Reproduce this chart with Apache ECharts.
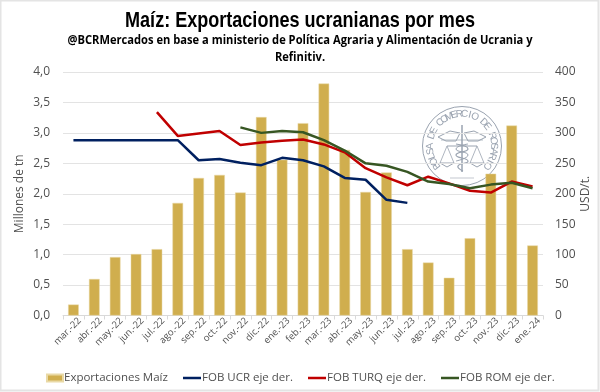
<!DOCTYPE html>
<html><head><meta charset="utf-8">
<style>html,body{margin:0;padding:0;background:#fff}#c{width:600px;height:392px}</style>
<script src="https://cdn.jsdelivr.net/npm/echarts@6/dist/echarts.min.js"></script>
</head><body><div id="c"></div>
<script>
const categories=['mar.-22','abr.-22','may.-22','jun.-22','jul.-22','ago.-22','sep.-22','oct.-22','nov.-22','dic.-22','ene.-23','feb.-23','mar.-23','abr.-23','may.-23','jun.-23','jul.-23','ago.-23','sep.-23','oct.-23','nov.-23','dic.-23','ene.-24'];
const exportaciones=[0.18,0.60,0.96,1.01,1.09,1.85,2.26,2.31,2.02,3.26,2.56,3.16,3.81,2.72,2.03,2.35,1.09,0.87,0.62,1.27,2.33,3.12,1.15];
const fobUcr=[288,288,288,288,288,288,255,257,251,247,259,255,245,226,223,190,185,null,null,null,null,null,null];
const fobTurq=[null,null,null,null,334,295,299,303,280,284,287,289,281,268,242,227,214,228,217,205,202,220,212];
const fobRom=[null,null,null,null,null,null,null,null,309,300,303,301,288,271,250,246,236,220,216,209,215,218,209];
const sealText='BOLSA DE COMERCIO DE ROSARIO';
const leftTicks=['0,0','0,5','1,0','1,5','2,0','2,5','3,0','3,5','4,0'];

const chart=echarts.init(document.getElementById('c'),null,{renderer:'canvas'});
const ink='#505050', seal='#9aa3b0';
const cx=462,cy=146,r=39.5;
const L=(pts,w,smooth)=>({type:'polyline',shape:{points:pts,smooth:smooth||0},style:{stroke:seal,lineWidth:w||1,fill:null}});
const sealEls=[
 {type:'circle',shape:{cx,cy,r:r},style:{fill:null,stroke:seal,lineWidth:1}},
 L([[cx,cy-21],[cx,cy+26]],1.5),
 L([[cx-24,cy-9],[cx-12,cy-15],[cx-2,cy-13],[cx-6,cy-5],[cx-16,cy-5],[cx-24,cy-9]]),
 L([[cx+24,cy-9],[cx+12,cy-15],[cx+2,cy-13],[cx+6,cy-5],[cx+16,cy-5],[cx+24,cy-9]]),
 L([[cx-21,cy-6],[cx+21,cy-6]],.7),
 L([[cx-15,cy],[cx+15,cy]]),
 L([[cx-22,cy+17],[cx-15,cy],[cx-8,cy+17]],.8),
 L([[cx+22,cy+17],[cx+15,cy],[cx+8,cy+17]],.8),
 L([[cx-22,cy+17],[cx-15,cy+21],[cx-8,cy+17],[cx-22,cy+17]]),
 L([[cx+22,cy+17],[cx+15,cy+21],[cx+8,cy+17],[cx+22,cy+17]]),
 L([[cx-6,cy-2],[cx+6,cy+3],[cx-6,cy+9],[cx+6,cy+15],[cx-4,cy+20],[cx+1,cy+25]],1.2,.6),
 L([[cx+6,cy-2],[cx-6,cy+3],[cx+6,cy+9],[cx-6,cy+15]],1,.6),
 L([[cx-12,cy+32],[cx+12,cy+32]],.6)
];
const n=sealText.length, span=266*Math.PI/180;
for(let i=0;i<n;i++){
  const a=-Math.PI/2-span/2+span*(i+.5)/n;
  const rt=r-7.5;
  sealEls.push({type:'text',x:cx+rt*Math.cos(a),y:cy+rt*Math.sin(a),rotation:-(a+Math.PI/2),
    style:{text:sealText[i],fill:seal,font:'10px "Liberation Sans"',align:'center',verticalAlign:'middle'}});
}
const lg=(name,left,w,h)=>({left,top:372,itemWidth:w,itemHeight:h,itemGap:0,padding:0,icon:'rect',
  textStyle:{fontFamily:'Open Sans',fontSize:11.5,color:ink,padding:[0,0,0,-4]},data:[name]});
chart.setOption({
 animation:false,backgroundColor:'#fff',
 grid:{left:63,right:57,top:72,bottom:76.5},
 legend:[lg('Exportaciones Maíz',46,16,7),lg('FOB UCR eje der.',183,18,2.5),lg('FOB TURQ eje der.',308,18,2.5),lg('FOB ROM eje der.',441,18,2.5)],
 xAxis:{type:'category',data:categories,boundaryGap:true,
  axisLine:{lineStyle:{color:'#d9d9d9'}},axisTick:{show:true,alignWithLabel:false,length:4,lineStyle:{color:'#d9d9d9'}},
  axisLabel:{rotate:45,interval:0,fontFamily:'Open Sans',fontSize:9.5,color:ink,margin:10,padding:[0,-9,0,0]}},
 yAxis:[
  {type:'value',min:0,max:4,interval:.5,name:'Millones de tn',nameLocation:'middle',nameGap:37,nameMoveOverlap:false,nameRotate:90,
   nameTextStyle:{fontFamily:'Open Sans',fontSize:12,color:ink},
   axisLine:{show:false},axisTick:{show:false},
   axisLabel:{fontFamily:'Open Sans',fontSize:12,fontWeight:500,color:ink,margin:13,formatter:v=>leftTicks[Math.round(v*2)]},
   splitLine:{lineStyle:{color:'#e3e3e3',width:1}}},
  {type:'value',min:0,max:400,interval:50,name:'USD/t.',nameLocation:'middle',nameGap:37,nameMoveOverlap:false,nameRotate:90,
   nameTextStyle:{fontFamily:'Open Sans',fontSize:12,color:ink},
   axisLine:{show:false},axisTick:{show:false},
   axisLabel:{fontFamily:'Open Sans',fontSize:12,fontWeight:500,color:ink,margin:12},
   splitLine:{show:false}}
 ],
 series:[
  {name:'Exportaciones Maíz',type:'bar',data:exportaciones,barWidth:'51%',itemStyle:{color:'#d0ae4e',borderColor:'#e9d9a6',borderWidth:.5}},
  {name:'FOB UCR eje der.',type:'line',yAxisIndex:1,data:fobUcr,symbol:'none',lineStyle:{color:'#002060',width:2.5},itemStyle:{color:'#002060'}},
  {name:'FOB TURQ eje der.',type:'line',yAxisIndex:1,data:fobTurq,symbol:'none',lineStyle:{color:'#c00000',width:2.5},itemStyle:{color:'#c00000'}},
  {name:'FOB ROM eje der.',type:'line',yAxisIndex:1,data:fobRom,symbol:'none',lineStyle:{color:'#375623',width:2.5},itemStyle:{color:'#375623'}}
 ],
 graphic:[
  {type:'text',x:300,y:21,scaleX:.82,z:100,style:{text:'Maíz: Exportaciones ucranianas por mes',font:'bold 22px "Liberation Sans"',fill:'#000',align:'center',verticalAlign:'middle'}},
  {type:'text',x:300,y:41,scaleX:.97,z:100,style:{text:'@BCRMercados en base a ministerio de Política Agraria y Alimentación de Ucrania y',font:'bold 11.5px "Open Sans"',fill:'#000',align:'center',verticalAlign:'middle'}},
  {type:'text',x:300,y:58,scaleX:.97,z:100,style:{text:'Refinitiv.',font:'bold 11.5px "Open Sans"',fill:'#000',align:'center',verticalAlign:'middle'}},
  {type:'group',z:1,silent:true,children:sealEls},
  {type:'rect',z:101,silent:true,shape:{x:.5,y:.5,width:598,height:390},style:{fill:null,stroke:'#e4e4e4',lineWidth:2}}
 ]
});
</script></body></html>
